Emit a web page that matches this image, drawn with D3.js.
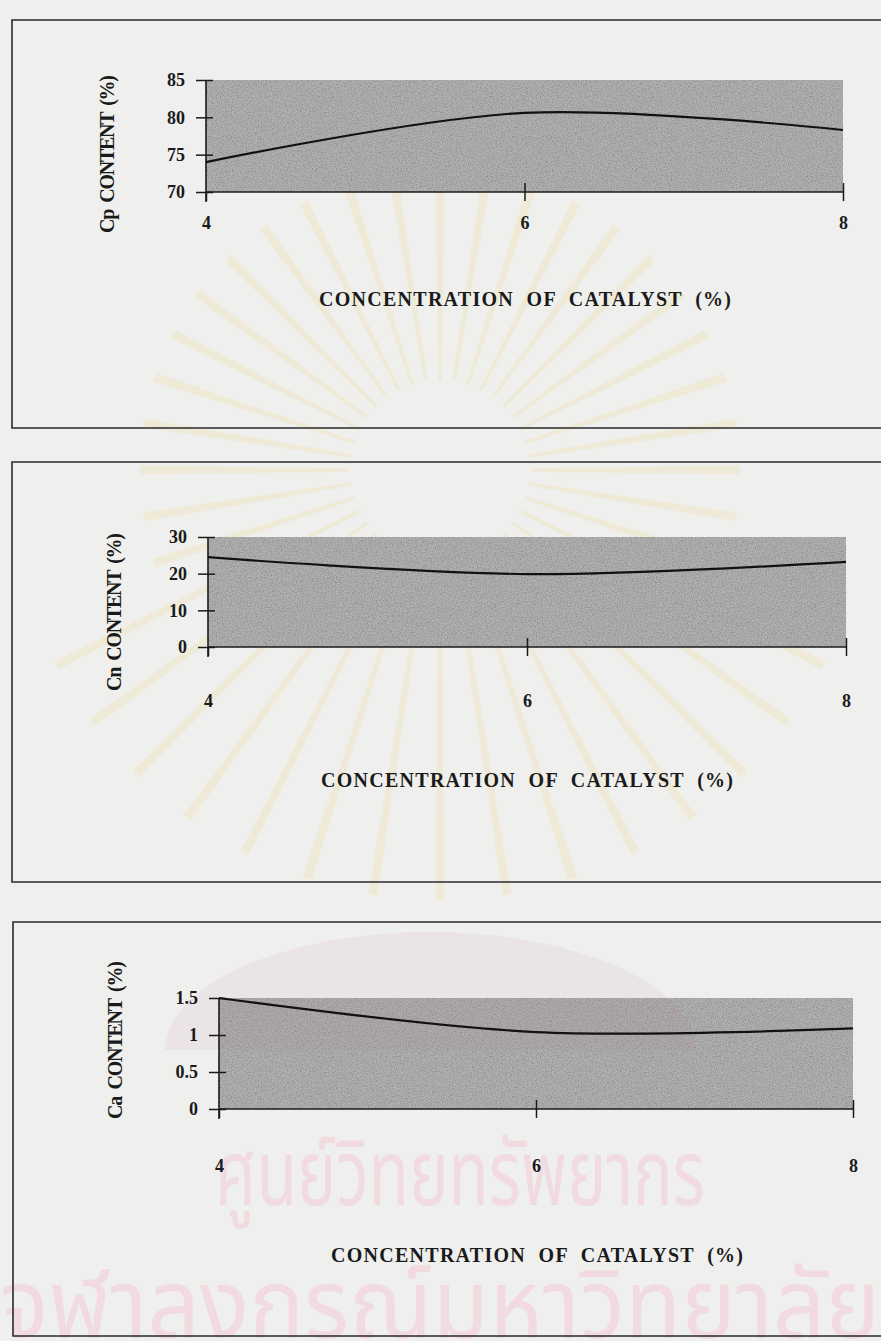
<!DOCTYPE html>
<html>
<head>
<meta charset="utf-8">
<script src="https://cdn.jsdelivr.net/npm/d3@7"></script>
<style>
  html, body { margin: 0; padding: 0; background: #efefed; }
  svg { display: block; }
</style>
</head>
<body>
<svg id="chart" width="881" height="1341"></svg>
<script>
// ---------------- DATA ----------------
const concentration = [4, 6, 8];
const xTickValues = [4, 6, 8];
const xTitle = "CONCENTRATION  OF  CATALYST  (%)";

const cpContent = [74.0, 80.6, 78.3];
const cpTicks = [70, 75, 80, 85];
const cpLabel = "Cp  CONTENT  (%)";

const cnContent = [24.5, 19.9, 23.2];
const cnTicks = [0, 10, 20, 30];
const cnLabel = "Cn  CONTENT  (%)";

const caContent = [1.5, 1.04, 1.09];
const caTicks = [0, 0.5, 1, 1.5];
const caLabel = "Ca  CONTENT  (%)";

const watermarkTop = "ศูนย์วิทยทรัพยากร";
const watermarkBottom = "จุฬาลงกรณ์มหาวิทยาลัย";

// ---------------- LAYOUT ----------------
const layouts = [
  { values: cpContent, ticks: cpTicks, label: cpLabel, domain: [70, 85],
    box: { x: 12, y: 20, b: 428 }, plot: { x0: 206, x1: 843, top: 80, bot: 192 },
    xLabY: 223, titleX: 525, titleY: 306, yLab: { x: 114, y: 154 } },
  { values: cnContent, ticks: cnTicks, label: cnLabel, domain: [0, 30],
    box: { x: 12, y: 462, b: 882 }, plot: { x0: 208, x1: 846, top: 537, bot: 647 },
    xLabY: 701, titleX: 527, titleY: 787, yLab: { x: 121, y: 612 } },
  { values: caContent, ticks: caTicks, label: caLabel, domain: [0, 1.5],
    box: { x: 13, y: 922, b: 1336 }, plot: { x0: 219, x1: 853, top: 998, bot: 1109 },
    xLabY: 1166, titleX: 537, titleY: 1262, yLab: { x: 122, y: 1040 } }
];

const FONT = "'Liberation Serif', 'Times New Roman', serif";
const svg = d3.select("#chart");

// filters: plot-area grain
const defs = svg.append("defs");
const grain = defs.append("filter").attr("id", "grain")
  .attr("x", 0).attr("y", 0).attr("width", 1).attr("height", 1);
grain.append("feTurbulence").attr("type", "fractalNoise")
  .attr("baseFrequency", 0.8).attr("numOctaves", 2).attr("seed", 3).attr("result", "noise");
grain.append("feColorMatrix").attr("in", "noise").attr("type", "matrix")
  .attr("values", "0 0 0 0 0  0 0 0 0 0  0 0 0 0 0  0 0 0 -0.9 0.55").attr("result", "dark");
grain.append("feComposite").attr("in", "dark").attr("in2", "SourceGraphic").attr("operator", "in").attr("result", "darkIn");
const gm = grain.append("feMerge");
gm.append("feMergeNode").attr("in", "SourceGraphic");
gm.append("feMergeNode").attr("in", "darkIn");

// background paper
svg.append("rect").attr("width", 881).attr("height", 1341).attr("fill", "#efefed");

// faint watermark: sunburst rays
const rays = svg.append("g").attr("opacity", 0.2);
const rayCx = 440, rayCy = 470;
d3.range(0, 360, 9).forEach(a => {
  const rad = a * Math.PI / 180;
  const r0 = 90, r1 = (a > 20 && a < 160) ? 430 : 300;
  const w = 9;
  const cx0 = rayCx + r0 * Math.cos(rad), cy0 = rayCy + r0 * Math.sin(rad);
  const cx1 = rayCx + r1 * Math.cos(rad), cy1 = rayCy + r1 * Math.sin(rad);
  const px = -Math.sin(rad) * w / 2, py = Math.cos(rad) * w / 2;
  rays.append("path")
    .attr("d", `M${cx0 + px * 0.4},${cy0 + py * 0.4} L${cx1 + px},${cy1 + py} L${cx1 - px},${cy1 - py} L${cx0 - px * 0.4},${cy0 - py * 0.4}Z`)
    .attr("fill", "#efd98a");
});

// faint seal on the paper above the bottom plot (scan watermark)
svg.append("path")
  .attr("d", "M165,1050 A265,118 0 0 1 695,1050 Z")
  .attr("fill", "#ebe4e6");

// watermark Thai text
svg.append("text").text(watermarkTop)
  .attr("x", 460).attr("y", 1205).attr("text-anchor", "middle")
  .attr("font-family", "'Noto Sans Thai', 'Noto Sans', 'DejaVu Sans', sans-serif")
  .attr("font-size", 92).attr("fill", "#f1dbe0")
  .attr("textLength", 490).attr("lengthAdjust", "spacingAndGlyphs");
svg.append("text").text(watermarkBottom)
  .attr("x", 440).attr("y", 1338).attr("text-anchor", "middle")
  .attr("font-family", "'Noto Sans Thai', 'Noto Sans', 'DejaVu Sans', sans-serif")
  .attr("font-size", 96).attr("fill", "#f1dbe0")
  .attr("textLength", 880).attr("lengthAdjust", "spacingAndGlyphs");

// ---------------- PANELS ----------------
layouts.forEach((L, idx) => {
  const g = svg.append("g");

  // panel frame (right side runs off the page)
  g.append("path")
    .attr("d", `M 900 ${L.box.y} H ${L.box.x} V ${L.box.b} H 900`)
    .attr("fill", "none").attr("stroke", "#2a2a2a").attr("stroke-width", 1.6);

  const x = d3.scaleLinear().domain([concentration[0], concentration[concentration.length - 1]])
    .range([L.plot.x0, L.plot.x1]);
  const y = d3.scaleLinear().domain(L.domain).range([L.plot.bot, L.plot.top]);

  // shaded plot area
  g.append("rect")
    .attr("x", x(concentration[0])).attr("y", y(L.domain[1]))
    .attr("width", x(concentration[concentration.length - 1]) - x(concentration[0]))
    .attr("height", y(L.domain[0]) - y(L.domain[1]))
    .attr("fill", "#b1b1b1").attr("filter", "url(#grain)");

  // pink tint of the seal where it crosses the bottom plot area
  if (idx === 2) {
    g.append("path")
      .attr("d", "M165,1050 A265,118 0 0 1 695,1050 Z")
      .attr("fill", "#b08a9c").attr("opacity", 0.16)
      .style("clip-path", `inset(${y(L.domain[1]) - 932}px 0 0 ${x(concentration[0]) - 165}px)`);
  }

  // y axis
  const yAxis = d3.axisLeft(y).tickValues(L.ticks).tickSize(10).tickPadding(12)
    .tickFormat(d3.format("~g"));
  const ya = g.append("g").attr("transform", `translate(${L.plot.x0},0)`).call(yAxis);
  ya.select(".domain").attr("d", `M0,${y(L.domain[1])}V${y(L.domain[0]) + 10}`)
    .attr("stroke", "#1a1a1a").attr("stroke-width", 1.6);
  ya.selectAll(".tick line").attr("x1", -10).attr("x2", 7)
    .attr("stroke", "#1a1a1a").attr("stroke-width", 1.5);
  ya.selectAll(".tick text").attr("font-family", FONT).attr("font-weight", "bold")
    .attr("font-size", 18).attr("fill", "#1a1a1a").attr("x", -21);

  // x axis (line + ticks crossing)
  const xAxis = d3.axisBottom(x).tickValues(xTickValues).tickSize(0).tickFormat(d3.format("d"));
  const xa = g.append("g").attr("transform", `translate(0,${L.plot.bot})`).call(xAxis);
  xa.select(".domain").attr("d", `M${L.plot.x0},0H${L.plot.x1}`)
    .attr("stroke", "#1a1a1a").attr("stroke-width", 1.6);
  xa.selectAll(".tick line").attr("y1", d => d === xTickValues[0] ? 0 : -9).attr("y2", 9)
    .attr("stroke", "#1a1a1a").attr("stroke-width", 1.5);
  xa.selectAll(".tick text").attr("font-family", FONT).attr("font-weight", "bold")
    .attr("font-size", 18).attr("fill", "#1a1a1a")
    .attr("y", L.xLabY - L.plot.bot).attr("dy", "0.35em");

  // line
  const line = d3.line()
    .x((d, i) => x(concentration[i]))
    .y(d => y(d))
    .curve(d3.curveCatmullRom.alpha(0.5));
  g.append("path").datum(L.values).attr("d", line)
    .attr("fill", "none").attr("stroke", "#111").attr("stroke-width", 2.2);

  // x title
  g.append("text").text(xTitle)
    .attr("x", L.titleX).attr("y", L.titleY).attr("text-anchor", "middle")
    .attr("font-family", FONT).attr("font-weight", "bold").attr("font-size", 20)
    .attr("fill", "#1a1a1a").attr("xml:space", "preserve")
    .attr("textLength", 412).attr("lengthAdjust", "spacing");

  // y title (rotated)
  g.append("text").text(L.label)
    .attr("transform", `translate(${L.yLab.x},${L.yLab.y}) rotate(-90)`)
    .attr("text-anchor", "middle")
    .attr("font-family", FONT).attr("font-weight", "bold").attr("font-size", 20)
    .attr("fill", "#1a1a1a").attr("xml:space", "preserve")
    .attr("textLength", 158).attr("lengthAdjust", "spacing");
});
</script>
</body>
</html>
